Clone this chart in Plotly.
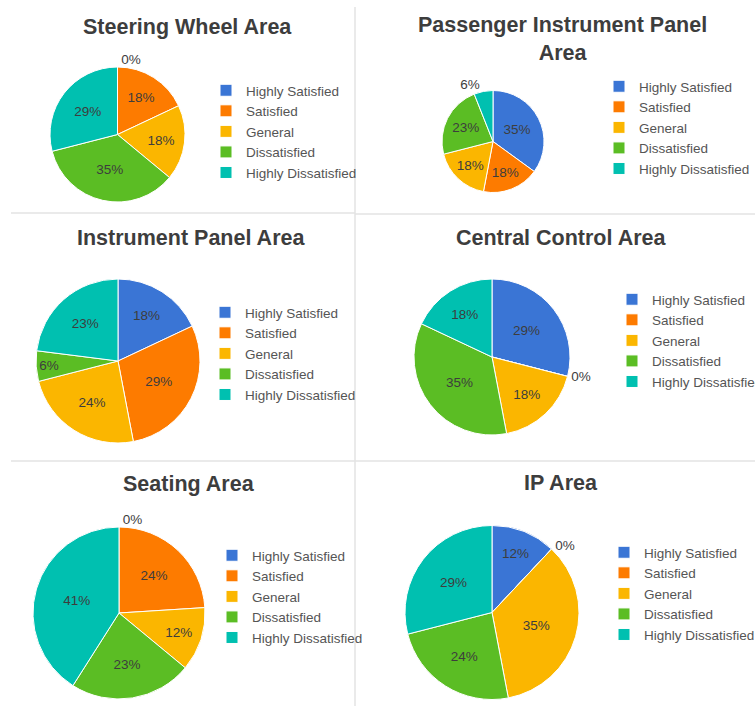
import plotly.graph_objects as go

W, H = 755, 706

categories = ["Highly Satisfied", "Satisfied", "General", "Dissatisfied", "Highly Dissatisfied"]
colors = ["#3a75d5", "#fd7b00", "#fbb600", "#5bbd24", "#00c0b0"]

titles = ["Steering Wheel Area", "Passenger Instrument Panel<br>Area", "Instrument Panel Area",
          "Central Control Area", "Seating Area", "IP Area"]

steering = [0, 18, 18, 35, 29]
passenger = [35, 18, 18, 23, 6]
instrument = [18, 29, 24, 6, 23]
central = [29, 0, 18, 35, 18]
seating = [0, 24, 12, 23, 41]
ip_area = [12, 0, 35, 24, 29]

series = [steering, passenger, instrument, central, seating, ip_area]

# layout (pixels): pie center x, center y, radius
pie_geo = [(117.5, 134.5, 67.5), (493, 141.5, 51), (118, 361, 82),
           (492, 357, 78), (119, 613, 86), (492, 612.5, 87)]
# title center x, y (first line)
title_pos = [(187, 27), (562, 39), (191, 238), (561, 238), (189, 484), (561, 483)]
# legend left x, top y
legend_pos = [(206, 75), (599, 71), (205, 297), (612, 284), (212, 540), (604, 537)]

fig = go.Figure()

for k, vals in enumerate(series):
    cx, cy, r = pie_geo[k]
    positions = []
    for v in vals:
        positions.append("inside" if v >= 10 else "outside")
    if k == 2:
        positions = ["inside"] * 5
    lid = "legend" if k == 0 else f"legend{k+1}"
    fig.add_trace(go.Pie(
        labels=categories,
        values=vals,
        sort=False,
        direction="clockwise",
        rotation=0,
        marker=dict(colors=colors, line=dict(color="white", width=1)),
        texttemplate="%{value}%",
        textposition=positions,
        insidetextorientation="horizontal",
        textfont=dict(family="Liberation Sans, Arial, sans-serif", size=13.5, color="#3d3d3d"),
        domain=dict(x=[(cx - r) / W, (cx + r) / W], y=[1 - (cy + r) / H, 1 - (cy - r) / H]),
        legend=lid,
        legendgroup=f"group{k+1}",
        hoverinfo="label+percent",
    ))

layout_legends = {}
for k, (lx, ly) in enumerate(legend_pos):
    key = "legend" if k == 0 else f"legend{k+1}"
    layout_legends[key] = dict(
        x=lx / W, y=1 - ly / H, xanchor="left", yanchor="top",
        font=dict(family="Liberation Sans, Arial, sans-serif", size=13.5, color="#555555"),
        bgcolor="rgba(0,0,0,0)", traceorder="normal",
    )

annotations = []
for k, (tx, ty) in enumerate(title_pos):
    annotations.append(dict(
        text=titles[k], x=tx / W, y=1 - ty / H, xref="paper", yref="paper",
        xanchor="center", yanchor="middle", showarrow=False,
        font=dict(family="Liberation Sans, Arial, sans-serif", size=21.5, color="#3d3d3d", weight="bold"),
    ))

line_col = "#e3e3e3"
shapes = [
    dict(type="line", xref="paper", yref="paper", x0=355 / W, x1=355 / W, y0=0, y1=1 - 7 / H,
         line=dict(color=line_col, width=1.5)),
    dict(type="line", xref="paper", yref="paper", x0=11 / W, x1=355 / W, y0=1 - 213 / H, y1=1 - 213 / H,
         line=dict(color=line_col, width=1.5)),
    dict(type="line", xref="paper", yref="paper", x0=355 / W, x1=1, y0=1 - 214 / H, y1=1 - 214 / H,
         line=dict(color=line_col, width=1.5)),
    dict(type="line", xref="paper", yref="paper", x0=11 / W, x1=1, y0=1 - 461 / H, y1=1 - 461 / H,
         line=dict(color=line_col, width=1.5)),
]

fig.update_layout(
    width=W, height=H,
    margin=dict(l=0, r=0, t=0, b=0, autoexpand=False),
    paper_bgcolor="white", plot_bgcolor="white",
    annotations=annotations,
    shapes=shapes,
    **layout_legends,
)

fig.write_html("out.html")
